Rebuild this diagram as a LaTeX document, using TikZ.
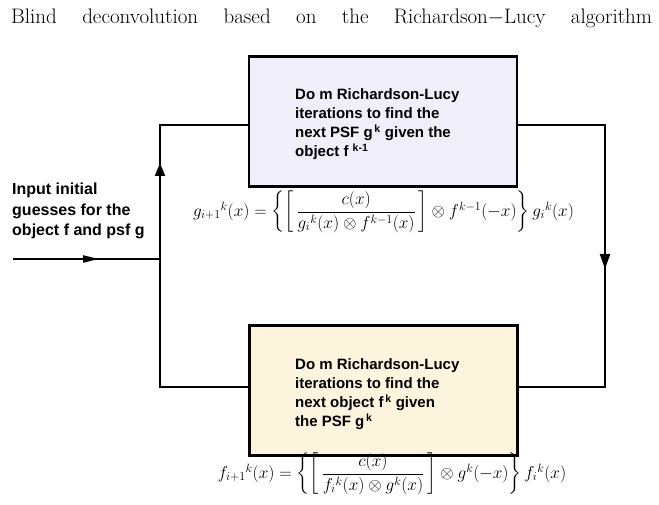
\documentclass[tikz,border=0pt]{standalone}
\usepackage{amsmath}
\usepackage{fontspec}
\setsansfont{Liberation Sans}
\usetikzlibrary{arrows.meta}
\definecolor{psfbox}{HTML}{EFEEF9}
\definecolor{objbox}{HTML}{FCF4DC}
\begin{document}
\begin{tikzpicture}[x=1pt,y=-1pt,
    wire/.style={line width=2.2pt},
    stepbox/.style={draw, line width=2.5pt, minimum width=268pt, minimum height=130pt, inner sep=0pt},
    boxtext/.style={font=\sffamily\bfseries\fontsize{15}{19.2}\selectfont, align=left, inner sep=0pt, anchor=north west},
    eqn/.style={font=\fontsize{17}{20}\selectfont, inner sep=0pt}]
                          \useasboundingbox (0,0) rectangle (659,505);
                          \node[anchor=base west, inner sep=0pt, font=\fontsize{21}{25}\selectfont] (title) at (11,24)
                            {\makebox[641pt][s]{Blind deconvolution based on the Richardson$-$Lucy algorithm}};
                          \node[stepbox, fill=psfbox] (psf) at (383,121.5) {};
                          \node[stepbox, fill=objbox] (obj) at (383.5,390.5) {};
                          \node[boxtext] (psftext) at (295,88) {Do m Richardson-Lucy\\iterations to find the\\next PSF g\textsuperscript{\,k} given the\\object f \textsuperscript{k-1}};
                          \node[boxtext] (objtext) at (295,358) {Do m Richardson-Lucy\\iterations to find the\\next object f\textsuperscript{\,k} given\\the PSF g\textsuperscript{\,k}};
                          \node[boxtext, font=\sffamily\bfseries\fontsize{16}{20.5}\selectfont] (input) at (12,183) {Input initial\\guesses for the\\object f and psf g};
                          \node[eqn] (psfeq) at (383.5,212) {$g_{i+1}{}^{k}(x)=\left\{\left[\,\dfrac{c(x)}{g_i{}^{k}(x)\otimes f^{k-1}(x)}\,\right]\otimes f^{k-1}(-x)\right\}g_i{}^{k}(x)$};
                          \node[eqn] (objeq) at (392,474) {$f_{i+1}{}^{k}(x)=\left\{\left[\,\dfrac{c(x)}{f_i{}^{k}(x)\otimes g^{k}(x)}\,\right]\otimes g^{k}(-x)\right\}f_i{}^{k}(x)$};
                          \coordinate (tl) at (160,125);
                          \coordinate (bl) at (160,387);
                          \coordinate (tr) at (605,125);
                          \coordinate (br) at (605,387);
                          \coordinate (start) at (13,259);
                          \coordinate (join) at (160,259);
                          \coordinate (uptip) at (160,163);
                          \coordinate (downtip) at (605,269);
                          \coordinate (intip) at (99,259);
                          \draw[wire] (obj.west |- bl) -- (bl) -- (tl) -- (psf.west |- tl);
                          \draw[wire, -{Triangle[length=13pt,width=10pt]}] (bl) -- (uptip);
                          \draw[wire] (psf.east |- tr) -- (tr) -- (br) -- (obj.east |- br);
                          \draw[wire, -{Triangle[length=15pt,width=10pt]}] (tr) -- (downtip);
                          \draw[wire] (start) -- (join);
                          \draw[wire, -{Triangle[length=16pt,width=7pt]}] (start) -- (intip);
                      \end{tikzpicture}
\end{document}
